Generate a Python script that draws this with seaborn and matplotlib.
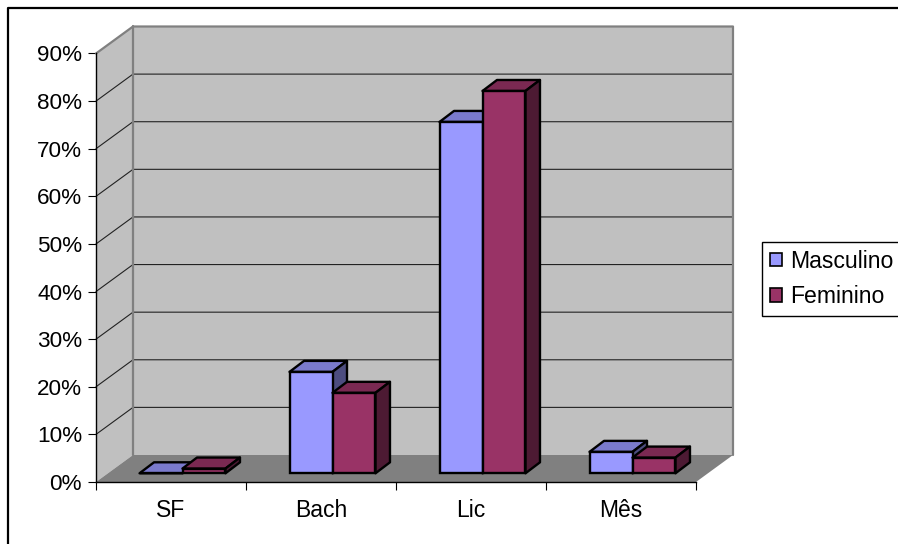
import matplotlib
matplotlib.use("Agg")
import matplotlib.pyplot as plt
import pandas as pd
import seaborn as sns
from matplotlib.lines import Line2D
from matplotlib.patches import Patch, Polygon

categories = ["SF", "Bach", "Lic", "Mês"]
masculino = [0.0, 21.3, 73.8, 4.5]
feminino = [1.0, 16.9, 80.3, 3.3]
y_ticks = [0, 10, 20, 30, 40, 50, 60, 70, 80, 90]

W, H = 898, 544
front_l, front_r, front_b, front_t = 96, 696, 482, 53.5
wall_dx, wall_dy = 37, 27      # depth of the chart box, pixels
bar_shift_x, bar_shift_y = 11.5, 8.7
bar_dx, bar_dy = 14.5, 11      # depth of one bar, pixels

colours = {"Masculino": "#9999FF", "Feminino": "#993366"}
tops = {"Masculino": "#7A7ACC", "Feminino": "#7A2952"}
sides = {"Masculino": "#4D4D80", "Feminino": "#4D1A33"}

df = pd.DataFrame({"cat": categories, "Masculino": masculino, "Feminino": feminino})
df = df.melt(id_vars="cat", var_name="sexo", value_name="valor")

sns.set_theme(style="white")
plt.rcParams["font.family"] = ["Liberation Sans", "DejaVu Sans"]

fig = plt.figure(figsize=(W / 100, H / 100), dpi=100, facecolor="white")

box = [front_l / W, (H - front_b) / H, (front_r - front_l) / W, (front_b - front_t) / H]
ax = fig.add_axes(box)
ax.set_xlim(-0.5, 3.5)
ax.set_ylim(0, 90)
ax.patch.set_visible(False)

ux = 4 / (front_r - front_l)
uy = 90 / (front_b - front_t)
dx, dy = wall_dx * ux, wall_dy * uy
grey = "#808080"

# walls and floor
x0, x1 = -0.5, 3.5
ax.add_patch(Polygon([(x0, 0), (x0 + dx, dy), (x0 + dx, 90 + dy), (x0, 90)], fc="#C0C0C0", ec="none", clip_on=False, zorder=0.5))
ax.add_patch(Polygon([(x0 + dx, dy), (x1 + dx, dy), (x1 + dx, 90 + dy), (x0 + dx, 90 + dy)], fc="#C0C0C0", ec="none", clip_on=False, zorder=0.5))
for t in y_ticks[1:-1]:
    ax.plot([x0, x0 + dx, x1 + dx], [t, t + dy, t + dy], color="#222222", lw=0.8, clip_on=False, zorder=0.7)
ax.plot([x0, x0 + dx, x1 + dx, x1 + dx], [90, 90 + dy, 90 + dy, dy], color=grey, lw=1.6, clip_on=False, zorder=0.8)
ax.plot([x0 + dx, x0 + dx], [dy, 90 + dy], color=grey, lw=1.6, clip_on=False, zorder=0.8)
ax.add_patch(Polygon([(x0, 0), (x1, 0), (x1 + dx, dy), (x0 + dx, dy)], fc=grey, ec="none", clip_on=False, zorder=0.9))

sns.despine(ax=ax, top=True, right=True)
for s in ["left", "bottom"]:
    ax.spines[s].set_color("black")
    ax.spines[s].set_linewidth(1.0)
ax.set_yticks(y_ticks)
ax.set_yticklabels([f"{t}%" for t in y_ticks])
ax.set_xticks([-0.5, 0.5, 1.5, 2.5, 3.5])
ax.set_xticklabels([])
ax.set_xticks([0, 1, 2, 3], labels=categories, minor=True)
ax.tick_params(axis="both", which="major", length=6, width=0.8, color="black", left=True, bottom=True, labelsize=16.2, labelcolor="black", pad=4)
ax.tick_params(axis="x", which="minor", length=0, labelsize=16.5, labelcolor="black", pad=12)
ax.xaxis.get_major_ticks()[-1].tick1line.set_color(grey)
ax.set_xlabel("")
ax.set_ylabel("")

# bars sit on their own axes, pushed back into the box
bar_box = [(front_l + bar_shift_x) / W, (H - front_b + bar_shift_y) / H, box[2], box[3]]
bar_ax = fig.add_axes(bar_box)
sns.barplot(data=df, x="cat", y="valor", hue="sexo", palette=colours, width=0.573, gap=0,
            saturation=1, edgecolor="black", linewidth=1.7, legend=False, ax=bar_ax)
bar_ax.set_xlim(-0.5, 3.5)
bar_ax.set_ylim(0, 90)
bar_ax.axis("off")

bdx, bdy = bar_dx * ux, bar_dy * uy
n = len(categories)
for i, bar in enumerate(list(bar_ax.patches)):
    name = "Masculino" if i < n else "Feminino"
    z = 3 if i < n else 5
    l, w, h = bar.get_x(), bar.get_width(), bar.get_height()
    r = l + w
    bar.set_zorder(z)
    bar.set_clip_on(False)
    bar_ax.add_patch(Polygon([(l, h), (r, h), (r + bdx, h + bdy), (l + bdx, h + bdy)], fc=tops[name], ec="black", lw=1.7, joinstyle="round", clip_on=False, zorder=z - 0.5))
    bar_ax.add_patch(Polygon([(r, 0), (r + bdx, bdy), (r + bdx, h + bdy), (r, h)], fc=sides[name], ec="black", lw=1.7, joinstyle="round", clip_on=False, zorder=z - 0.5))

handles = [Patch(fc=colours[k], ec="black", lw=1.2) for k in colours]
fig.legend(handles, list(colours), loc="upper left", bbox_to_anchor=(761.5 / W, (H - 241.5) / H),
           bbox_transform=fig.transFigure, fancybox=False, framealpha=1, edgecolor="black",
           fontsize=16.6, handlelength=0.52, handleheight=0.52, handletextpad=0.38, labelspacing=0.55,
           borderpad=0.35, borderaxespad=0, labelcolor="black")

# outer chart border, cut off at the image edge
fig.add_artist(Line2D([8 / W, 8 / W, 1], [0, (H - 8) / H, (H - 8) / H], color="black", lw=1.6))

fig.savefig("out.png", dpi=100)
